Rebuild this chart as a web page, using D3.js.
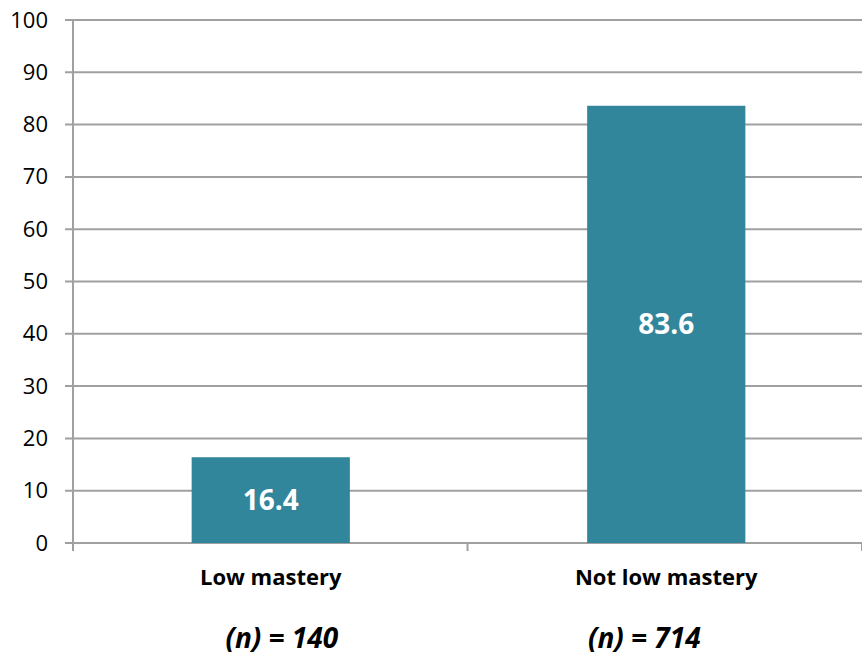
<!DOCTYPE html>
<html>
<head>
<meta charset="utf-8">
<script src="https://cdn.jsdelivr.net/npm/d3@7"></script>
<style>
  body { margin: 0; background: #fff; }
  svg { display: block; font-family: "Open Sans", sans-serif; }
</style>
</head>
<body>
<div id="container"></div>
<script>
// DATA
const categories = ["Low mastery", "Not low mastery"]
const values = [16.4, 83.6]
const nLabels = ["(n) = 140", "(n) = 714"]
const yTicks = [0, 10, 20, 30, 40, 50, 60, 70, 80, 90, 100]

// VARIABLES
const width = 862,
      height = 655,
      margin = {top: 20, bottom: 112, left: 73, right: 0}

const barColor = "#31869b"
const gridColor = "#a0a0a0"

// SCALES
const xScale = d3.scaleBand()
    .domain(categories)
    .range([margin.left, width - margin.right + 2])
    .paddingInner(0.6)
    .paddingOuter(0.3)

const yScale = d3.scaleLinear()
    .domain([0, 100])
    .range([height - margin.bottom, margin.top])

// ELEMENTS
const svg = d3.select("#container")
    .append("svg")
    .attr("width", width)
    .attr("height", height)

// gridlines
svg.append("g")
    .selectAll("line")
    .data(yTicks)
    .join("line")
    .attr("x1", margin.left - 8)
    .attr("x2", width)
    .attr("y1", d => yScale(d))
    .attr("y2", d => yScale(d))
    .attr("stroke", gridColor)
    .attr("stroke-width", 2)

// y axis
const yAxis = d3.axisLeft(yScale).tickValues(yTicks).tickSize(0).tickPadding(25)
const yG = svg.append("g")
    .attr("transform", `translate(${margin.left},0)`)
    .call(yAxis)
yG.select(".domain").attr("stroke", gridColor).attr("stroke-width", 2)
    .attr("d", `M0,${yScale(100)}V${yScale(0) + 8}`)
yG.selectAll("text")
    .attr("font-size", 22)
    .attr("fill", "#000")
    .attr("font-family", "'Open Sans', sans-serif")

// x axis tick marks at band edges
const bandEdges = [margin.left, margin.left + (width - margin.left) / 2, width]
svg.append("g")
    .selectAll("line")
    .data(bandEdges)
    .join("line")
    .attr("x1", d => d)
    .attr("x2", d => d)
    .attr("y1", yScale(0))
    .attr("y2", yScale(0) + 8)
    .attr("stroke", gridColor)
    .attr("stroke-width", 2)

// bars
svg.selectAll("rect.bar")
    .data(values)
    .join("rect")
    .attr("class", "bar")
    .attr("x", (d, i) => xScale(categories[i]))
    .attr("y", d => yScale(d))
    .attr("width", xScale.bandwidth())
    .attr("height", d => yScale(0) - yScale(d))
    .attr("fill", barColor)

// value labels
svg.selectAll("text.val")
    .data(values)
    .join("text")
    .attr("class", "val")
    .attr("x", (d, i) => xScale(categories[i]) + xScale.bandwidth() / 2)
    .attr("y", d => (yScale(d) + yScale(0)) / 2 + 10)
    .attr("text-anchor", "middle")
    .attr("font-size", 28)
    .attr("font-weight", "bold")
    .attr("fill", "#fff")
    .text(d => d.toFixed(1))

// category labels
svg.selectAll("text.cat")
    .data(categories)
    .join("text")
    .attr("class", "cat")
    .attr("x", d => xScale(d) + xScale.bandwidth() / 2)
    .attr("y", 585)
    .attr("text-anchor", "middle")
    .attr("font-size", 22)
    .attr("font-weight", "bold")
    .attr("fill", "#000")
    .text(d => d)

// n labels
const nOffsets = [11, -22]
svg.selectAll("text.n")
    .data(nLabels)
    .join("text")
    .attr("class", "n")
    .attr("x", (d, i) => xScale(categories[i]) + xScale.bandwidth() / 2 + nOffsets[i])
    .attr("y", 648)
    .attr("text-anchor", "middle")
    .attr("font-size", 28)
    .attr("font-weight", "bold")
    .attr("font-style", "italic")
    .attr("fill", "#000")
    .text(d => d)
</script>
</body>
</html>
